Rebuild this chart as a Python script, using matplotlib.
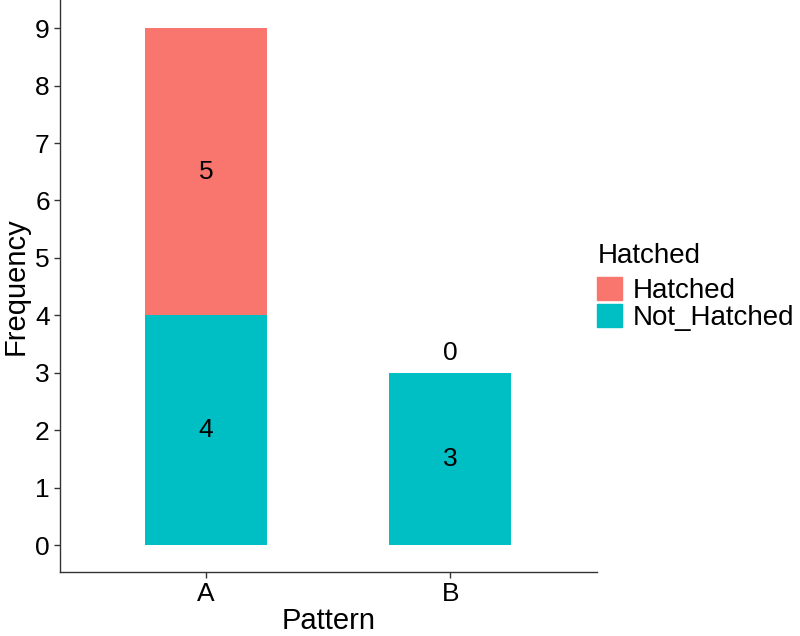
import matplotlib.pyplot as plt
from matplotlib.patches import Patch

plt.rcParams['font.family'] = ['Liberation Sans', 'DejaVu Sans']

patterns = ["A", "B"]
not_hatched = [4, 3]
hatched = [5, 0]
colors = {"Hatched": "#F8766D", "Not_Hatched": "#00BFC4"}


def main():
    fig = plt.figure(figsize=(8, 6.36), dpi=100)
    ax = fig.add_axes([59.5 / 800, 64 / 636, 537.5 / 800, 572 / 636])

    x = [1, 2]
    ax.bar(x, not_hatched, width=0.5, color=colors["Not_Hatched"])
    ax.bar(x, hatched, width=0.5, bottom=not_hatched, color=colors["Hatched"])

    # counts in the middle of each segment
    for xi, nh, h in zip(x, not_hatched, hatched):
        ax.text(xi, nh / 2, str(nh), ha="center", va="center", fontsize=19)
        if h > 0:
            ax.text(xi, nh + h / 2, str(h), ha="center", va="center", fontsize=19)
        else:
            ax.text(xi, nh + 0.35, str(h), ha="center", va="center", fontsize=19)

    ax.set_xlim(0.4, 2.6)
    ax.set_ylim(-0.47, 9.49)
    ax.set_xticks(x)
    ax.set_xticklabels(patterns)
    ax.set_yticks(range(10))
    ax.tick_params(labelsize=19, length=4, width=1, color="#333333", pad=3)
    ax.set_xlabel("Pattern", fontsize=21, labelpad=1)
    ax.set_ylabel("Frequency", fontsize=21, labelpad=4)
    for s in ["top", "right"]:
        ax.spines[s].set_visible(False)
    for s in ["left", "bottom"]:
        ax.spines[s].set_color("#333333")
        ax.spines[s].set_linewidth(1)

    fig.text(598 / 800, 1 - 263 / 636, "Hatched", fontsize=20, va="baseline")
    handles = [Patch(color=colors["Hatched"]), Patch(color=colors["Not_Hatched"])]
    fig.legend(handles, ["Hatched", "Not_Hatched"],
               loc="upper left", bbox_to_anchor=(597 / 800, 1 - 277 / 636),
               frameon=False, fontsize=20,
               handlelength=0.9, handleheight=0.9, labelspacing=0.0,
               handletextpad=0.4, borderpad=0.0, borderaxespad=0.0)

    fig.savefig("out.png", dpi=100)


if __name__ == "__main__":
    main()
